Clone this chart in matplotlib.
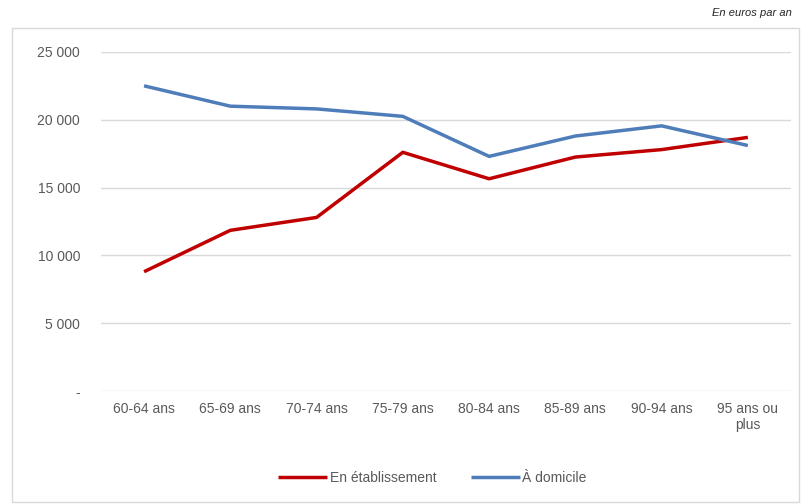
import matplotlib.pyplot as plt
from matplotlib.patches import Rectangle
from matplotlib.ticker import FuncFormatter

# Data (euros per year)
age_groups = ['60-64 ans', '65-69 ans', '70-74 ans', '75-79 ans',
              '80-84 ans', '85-89 ans', '90-94 ans', '95 ans ou\nplus']
en_etablissement = [8800, 11850, 12800, 17600, 15650, 17250, 17800, 18700]
a_domicile = [22500, 21000, 20800, 20250, 17300, 18800, 19550, 18100]

plt.rcParams['font.family'] = ['Liberation Sans Narrow', 'Liberation Sans', 'DejaVu Sans']

fig = plt.figure(figsize=(8.01, 5.04), dpi=100)
ax = fig.add_axes([0.126, 0.224, 0.8615, 0.673])

x = range(len(age_groups))
ax.plot(x, en_etablissement, color='#C00000', linewidth=2.5, label='En établissement',
        solid_capstyle='butt')
ax.plot(x, a_domicile, color='#4F7DBA', linewidth=2.5, label='À domicile',
        solid_capstyle='butt')

ax.set_xlim(-0.5, len(age_groups) - 0.5)
ax.set_ylim(0, 25000)
ax.set_yticks(range(0, 25001, 5000))
ax.yaxis.set_major_formatter(FuncFormatter(
    lambda v, p: '-' if v == 0 else f"{int(v):,}".replace(',', ' ')))
ax.set_xticks(list(x))
ax.set_xticklabels(age_groups)

ax.grid(axis='y', color='#D9D9D9', linewidth=1)
ax.set_axisbelow(True)
for s in ax.spines.values():
    s.set_visible(False)
ax.tick_params(axis='both', length=0, labelsize=10, colors='#595959')
ax.tick_params(axis='y', pad=15)
ax.tick_params(axis='x', pad=8)

# Chart frame and unit note
fig.patches.append(Rectangle((12 / 801, 2 / 504), 787 / 801, 474 / 504,
                             transform=fig.transFigure, fill=False,
                             edgecolor='#D9D9D9', linewidth=1))
fig.text(792 / 801, 1 - 13 / 504, 'En euros par an', ha='right', va='center',
         fontsize=8, style='italic', color='#262626')

fig.legend(loc='center', bbox_to_anchor=(0.54, 1 - 478 / 504), ncol=2,
           frameon=False, fontsize=10, handlelength=3.5, handletextpad=0.2,
           columnspacing=2.5, labelcolor='#595959')

plt.savefig('out.png', dpi=100)
